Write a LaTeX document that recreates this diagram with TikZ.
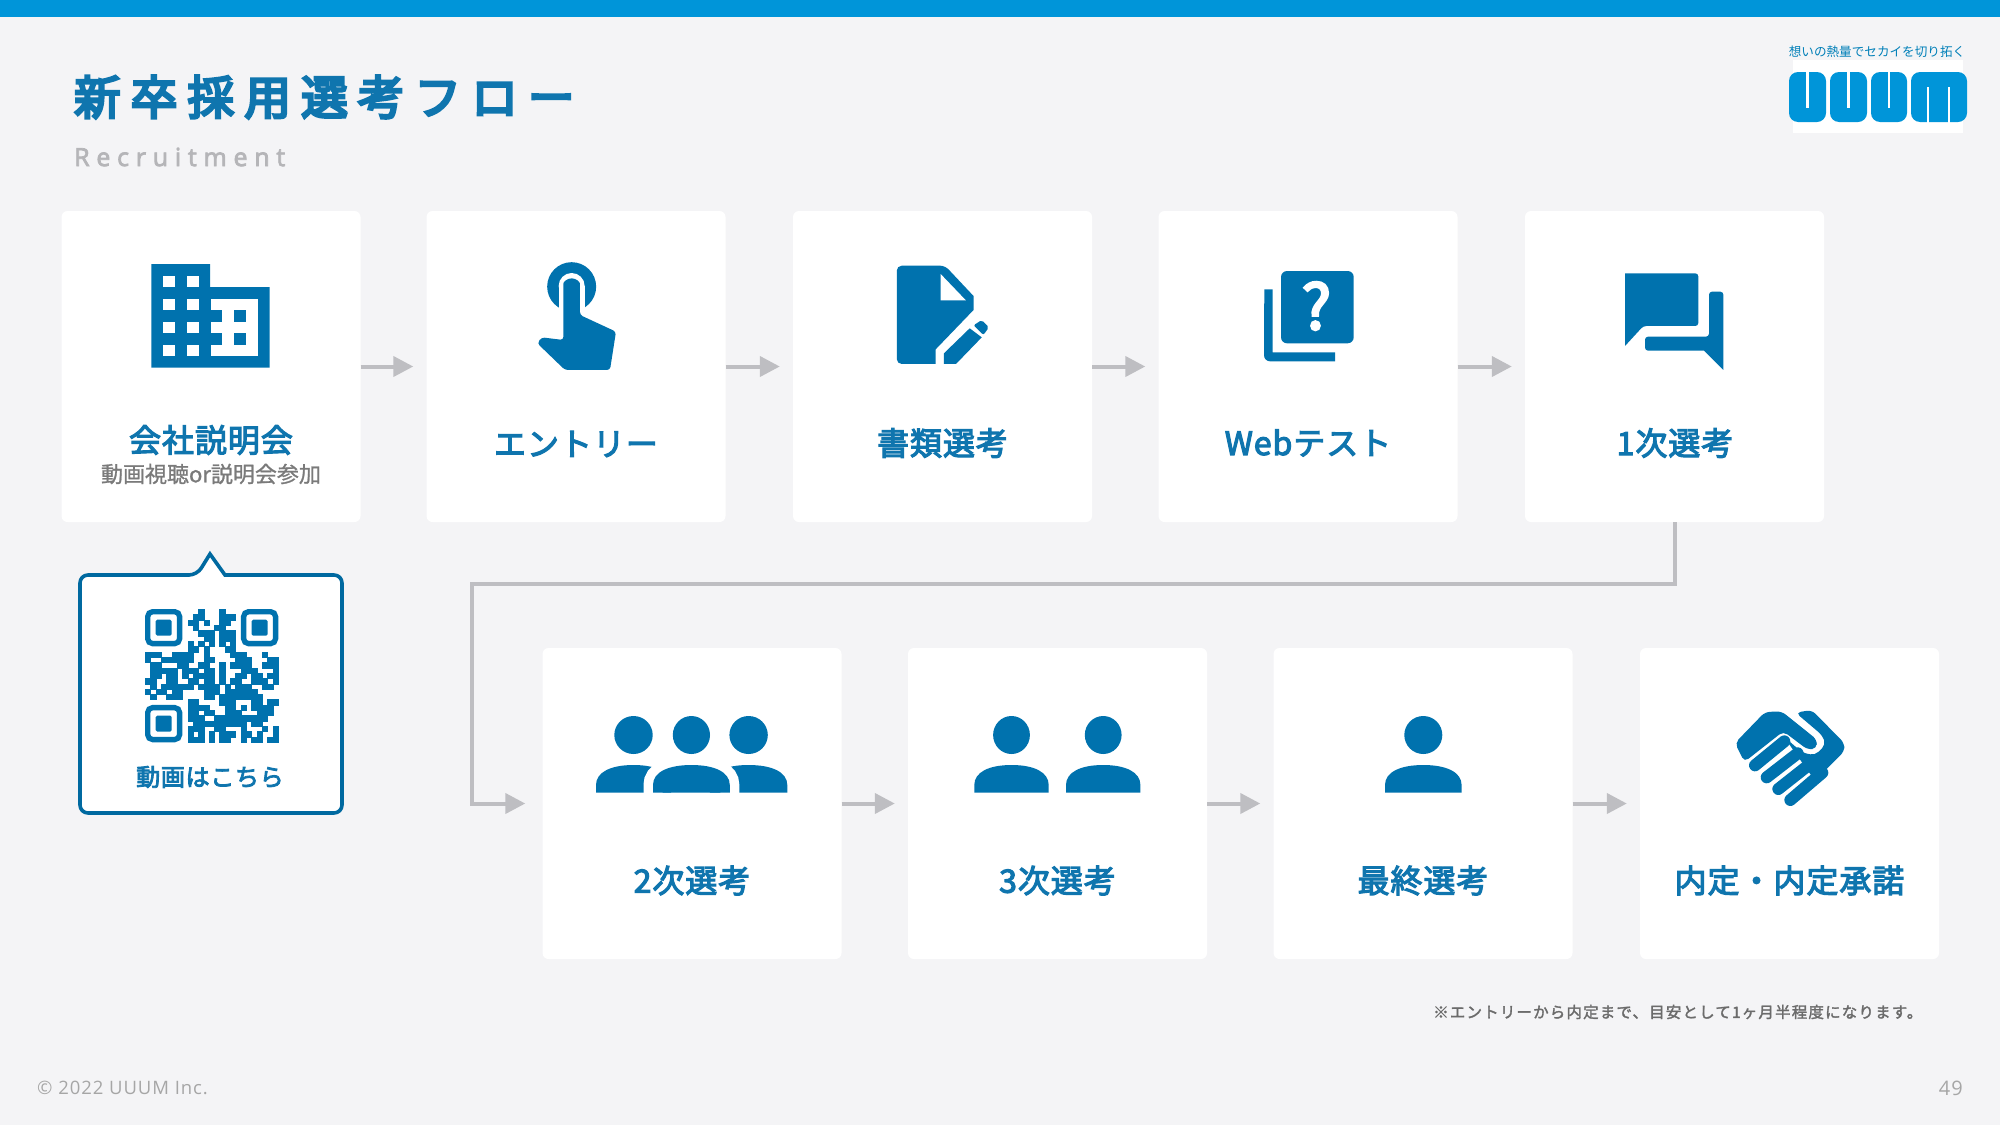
\documentclass[tikz,border=0pt]{standalone}
\usepackage{fontspec}
\usetikzlibrary{arrows.meta}
\newfontfamily\cjkb{Noto Sans CJK JP}
\newfontfamily\cjkq[FakeBold=4]{Noto Sans CJK JP}
\newfontfamily\cjkttl[LetterSpace=22,FakeBold=6]{Noto Sans CJK JP}
\newfontfamily\cjklab[LetterSpace=3,FakeBold=3.5]{Noto Sans CJK JP}
\newfontfamily\cjksmall[FakeBold=1]{Noto Sans CJK JP}
\newfontfamily\cjknote[LetterSpace=7.5,FakeBold=2]{Noto Sans CJK JP}
\newfontfamily\latinsub[LetterSpace=27,FakeBold=3]{Open Sans}
\newfontfamily\latinfoot[LetterSpace=5]{Open Sans}
\definecolor{bgc}{HTML}{F4F4F6}
\definecolor{barc}{HTML}{0095D9}
\definecolor{iconc}{HTML}{0072AE}
\definecolor{txtc}{HTML}{0F75AE}
\definecolor{arrc}{HTML}{BEBEC2}
\newcount\qrc
\def\qrrow#1#2{\qrc=0 \def\qry{#1}\qrparse#2\relax}
\def\qrparse#1{\ifx#1\relax\else\if1#1\fill[iconc,draw=iconc,line width=.25pt] (\the\qrc,\qry) rectangle ++(1,1);\fi\advance\qrc by1 \expandafter\qrparse\fi}
\newcommand{\domeicon}[2]{\fill[iconc,shift={(#1,0)}] (-#2,792.7) -- (-#2,785) .. controls (-#2,772) and (-0.6*#2,765) .. (0,765) .. controls (0.6*#2,765) and (#2,772) .. (#2,785) -- (#2,792.7) -- cycle;}
\newcommand{\qrfinder}[2]{\draw[iconc,line width=5.33pt,rounded corners=5pt] (#1+.5,#2+.5) rectangle ++(6,6);\fill[iconc,rounded corners=1.5pt] (#1+2,#2+2) rectangle ++(3,3);}
\tikzset{
  card/.style={fill=white,rounded corners=6pt,minimum width=299pt,minimum height=311pt,inner sep=0pt},
  lab/.style={font=\cjklab\fontsize{32}{32}\selectfont,text=txtc,inner sep=0pt},
  arr/.style={draw=arrc,line width=4pt,-{Triangle[length=20pt,width=20pt,fill=arrc]},shorten >=13pt},
  ico/.style={fill=iconc,draw=none}
}
\begin{document}
\begin{tikzpicture}[x=1pt,y=-1pt]
\useasboundingbox (0,0) rectangle (2000,1125);
\fill[bgc] (0,0) rectangle (2000,1125);
\fill[barc] (0,0) rectangle (2000,17);
% title
\node[anchor=west,inner sep=0pt,text=txtc,font=\cjkttl\fontsize{46.5}{46.5}\selectfont] (title) at (74,97) {新卒採用選考フロー};
\node[anchor=west,inner sep=0pt,text=arrc!95!black,font=\latinsub\fontsize{25}{25}\selectfont] (sub) at (74,157) {Recruitment};
% logo
\fill[white] (1793,60) rectangle (1963,133);
\node[inner sep=0pt,text=barc!85!black,font=\cjkb\fontsize{12.6}{12.6}\selectfont] (tag) at (1877,52) {想いの熱量でセカイを切り拓く};
\foreach \a/\b in {1789/1826,1830/1867,1871/1907}{
  \fill[barc,rounded corners=9pt] (\a,72) rectangle (\b,122);
  \fill[white] ({(\a+\b)/2-1.2},70) rectangle ({(\a+\b)/2+1.2},108);
}
\fill[barc,rounded corners=9pt] (1911,72) rectangle (1967,122);
\fill[white] (1927,87) rectangle (1929.4,124);
\fill[white] (1948,87) rectangle (1950.4,124);
% cards
\node[card] (b1) at (211,366.5) {};
\node[card] (b2) at (576,366.5) {};
\node[card] (b3) at (942.5,366.5) {};
\node[card] (b4) at (1308,366.5) {};
\node[card] (b5) at (1674.5,366.5) {};
\node[card] (b6) at (692,803.5) {};
\node[card] (b7) at (1057.5,803.5) {};
\node[card] (b8) at (1423,803.5) {};
\node[card] (b9) at (1789.5,803.5) {};
% labels
\node[lab] (l1) at (211,440) {会社説明会};
\node[inner sep=0pt,text=black!52,font=\cjksmall\fontsize{22}{22}\selectfont] (l1s) at (211,474) {動画視聴or説明会参加};
\node[lab] (l2) at (576,444) {エントリー};
\node[lab] (l3) at (942.5,443) {書類選考};
\node[lab] (l4) at (1308,443) {Webテスト};
\node[lab] (l5) at (1675,443) {1次選考};
\node[lab] (l6) at (692,880.5) {2次選考};
\node[lab] (l7) at (1057.5,880.5) {3次選考};
\node[lab] (l8) at (1423,880.5) {最終選考};
\node[lab] (l9) at (1789.5,880.5) {内定・内定承諾};
% arrows
\draw[arr] (b1) -- (b2);
\draw[arr] (b2) -- (b3);
\draw[arr] (b3) -- (b4);
\draw[arr] (b4) -- (b5);
\draw[arr] (b6) -- (b7);
\draw[arr] (b7) -- (b8);
\draw[arr] (b8) -- (b9);
\coordinate (c1) at (472,584);
\draw[arr,shorten >=17pt] (b5.south) |- (c1) |- (b6.west);
% callout
\draw[iconc!92!black,fill=white,line width=3.6pt,rounded corners=8pt] (80,575) -- (197,575) [sharp corners] -- (210,554) -- (225,575) [rounded corners=8pt] -- (342,575) -- (342,813) -- (80,813) -- cycle;
\begin{scope}[shift={(145,609)},x=5.33pt,y=-5.33pt]
\qrfinder{0}{0}\qrfinder{18}{0}\qrfinder{0}{18}
\qrrow{0}{0000000000100010000000000}
\qrrow{1}{0000000001100011100000000}
\qrrow{2}{0000000011010011000000000}
\qrrow{3}{0000000001000110000000000}
\qrrow{4}{0000000000111011100000000}
\qrrow{5}{0000000000011011100000000}
\qrrow{6}{0000000010101010100000000}
\qrrow{7}{0000000011010001100000000}
\qrrow{8}{1110011110010000111000100}
\qrrow{9}{1001111110011000011100011}
\qrrow{10}{0110001100110010111100111}
\qrrow{11}{0111110111011010001110001}
\qrrow{12}{0110110101111010011011011}
\qrrow{13}{1100110011011010110011101}
\qrrow{14}{0101111110111101011100110}
\qrrow{15}{1011011000011101111110000}
\qrrow{16}{0100111000011011111111000}
\qrrow{17}{0000000011000011100011011}
\qrrow{18}{0000000011110001101011110}
\qrrow{19}{0000000011011001110001110}
\qrrow{20}{0000000011100111111111100}
\qrrow{21}{0000000001111111111011000}
\qrrow{22}{0000000011100110001000101}
\qrrow{23}{0000000010101011101101001}
\qrrow{24}{0000000011101011001011011}
\end{scope}
\node[inner sep=0pt,text=txtc,font=\cjklab\fontsize{24}{24}\selectfont] (qrl) at (210,777) {動画はこちら};
% building icon
\fill[iconc] (151.3,264) -- (210,264) -- (210,287) -- (269.6,287) -- (269.6,367.6) -- (151.3,367.6) -- cycle;
\foreach \y in {276,299,321.6,344.6}{
  \fill[white] (163,\y) rectangle ++(12,11);
  \fill[white] (186.6,\y) rectangle ++(12,11);
}
\fill[white] (211,299) rectangle (258,356);
\foreach \y in {310,333}{
  \fill[iconc] (210,\y) rectangle (222,\y+11.7);
  \fill[iconc] (234,\y) rectangle (246,\y+11.7);
}
% touch icon
\begin{scope}[shift={(510,250)},x=.3333pt,y=-.3333pt]
\fill[iconc] (185,110) circle (24.5pt);
\draw[white,line width=26pt] (185,108) -- (185,220);
\fill[white] (185,108) circle (13pt);
\fill[iconc,rounded corners=3pt] (160,110) arc[start angle=180,end angle=360,x radius=25,y radius=25] -- (210,195) -- (318,245) -- (300,360) -- (165,360) -- (82,280) -- (95,262) -- (160,270) -- cycle;
\end{scope}
% document icon
\begin{scope}[shift={(860,240)},x=.5485pt,y=-.3333pt]
\fill[iconc,rounded corners=5pt] (67,77) -- (155,77) [sharp corners] -- (207,168) -- (207,210) -- (138,328) -- (138,372) [rounded corners=5pt] -- (67,372) -- cycle;
\fill[white] (147,102) -- (147,181) -- (193,181) -- cycle;
\fill[iconc] (153,340) -- (200,265) -- (222,292) -- (175,372) -- (153,372) -- cycle;
\fill[iconc,rounded corners=2pt] (207,256) -- (222,240) -- (235,262) -- (225,285) -- cycle;
\end{scope}
% question icon
\fill[iconc] (1264.3,289.3) -- (1272.5,289.3) -- (1272.5,352.3) -- (1335,352.3) -- (1335,361.3) -- (1270,361.3) arc[start angle=90,end angle=180,radius=6] -- cycle;
\fill[iconc,rounded corners=6pt] (1281,271) rectangle (1353.7,343.3);
\node[inner sep=0pt,text=white,font=\cjkq\fontsize{62}{62}\selectfont] (qm) at (1316.4,306) {?};
% chat icon
\begin{scope}[shift={(1600,260)},x=.3333pt,y=-.3333pt]
\fill[iconc,rounded corners=3pt] (75,40) -- (295,40) -- (295,198) -- (130,198) [sharp corners] -- (75,258) -- cycle;
\fill[iconc,rounded corners=3pt] (327,95) -- (370,95) [sharp corners] -- (370,330) -- (312,272) [rounded corners=3pt] -- (135,272) -- (135,230) -- (327,230) -- cycle;
\end{scope}
% people
\fill[iconc] (633.5,735) ellipse[x radius=19.2,y radius=19];
\fill[iconc] (691.4,735) ellipse[x radius=18.6,y radius=19];
\fill[iconc] (748.6,735) ellipse[x radius=19.2,y radius=19];
\domeicon{633.5}{37.5}
\domeicon{748.6}{38.7}
\draw[white,line width=19pt] (653,794) -- (653,785) .. controls (653,772) and (668,765) .. (691.4,765) .. controls (715,765) and (729.8,772) .. (729.8,785) -- (729.8,794);
\fill[white] (640,793) rectangle (745,805);
\domeicon{691.4}{38.4}
\fill[iconc] (1011.5,735) ellipse[x radius=18.4,y radius=19];
\domeicon{1011.5}{37.2}
\fill[iconc] (1103.2,735) ellipse[x radius=18.4,y radius=19];
\domeicon{1103.2}{37.2}
\fill[iconc] (1423.3,735) circle (19);
\domeicon{1423.3}{38.3}
% handshake
\begin{scope}[shift={(1715,708)},x=.3333pt,y=-.3333pt]
\fill[iconc,rounded corners=5pt] (60,105) -- (150,12) -- (200,10) -- (306,95) -- (305,122) -- (278,125) -- (205,70) -- (88,162) -- cycle;
\fill[iconc,rounded corners=5pt] (205,84) -- (262,134) -- (300,142) -- (332,110) -- (322,82) -- (242,14) -- (290,6) -- (388,105) -- (388,130) -- (300,218) -- cycle;
\foreach \a/\b/\c/\d in {120/172/208/100,155/208/248/136,190/243/280/172,226/276/322/194}{
  \draw[iconc,line width=12pt,line cap=round] (\a,\b) -- (\c,\d);
}
\end{scope}
% footer
\node[anchor=west,inner sep=0pt,text=black!58,font=\cjknote\fontsize{15.5}{15.5}\selectfont] (note) at (1433,1012) {※エントリーから内定まで、目安として1ヶ月半程度になります。};
\node[anchor=west,inner sep=0pt,text=black!35,font=\latinfoot\fontsize{18.5}{18.5}\selectfont] (copy) at (37,1088) {© 2022 UUUM Inc.};
\node[anchor=east,inner sep=0pt,text=black!35,font=\latinfoot\fontsize{20}{20}\selectfont] (pg) at (1963,1088) {49};
\end{tikzpicture}
\end{document}
